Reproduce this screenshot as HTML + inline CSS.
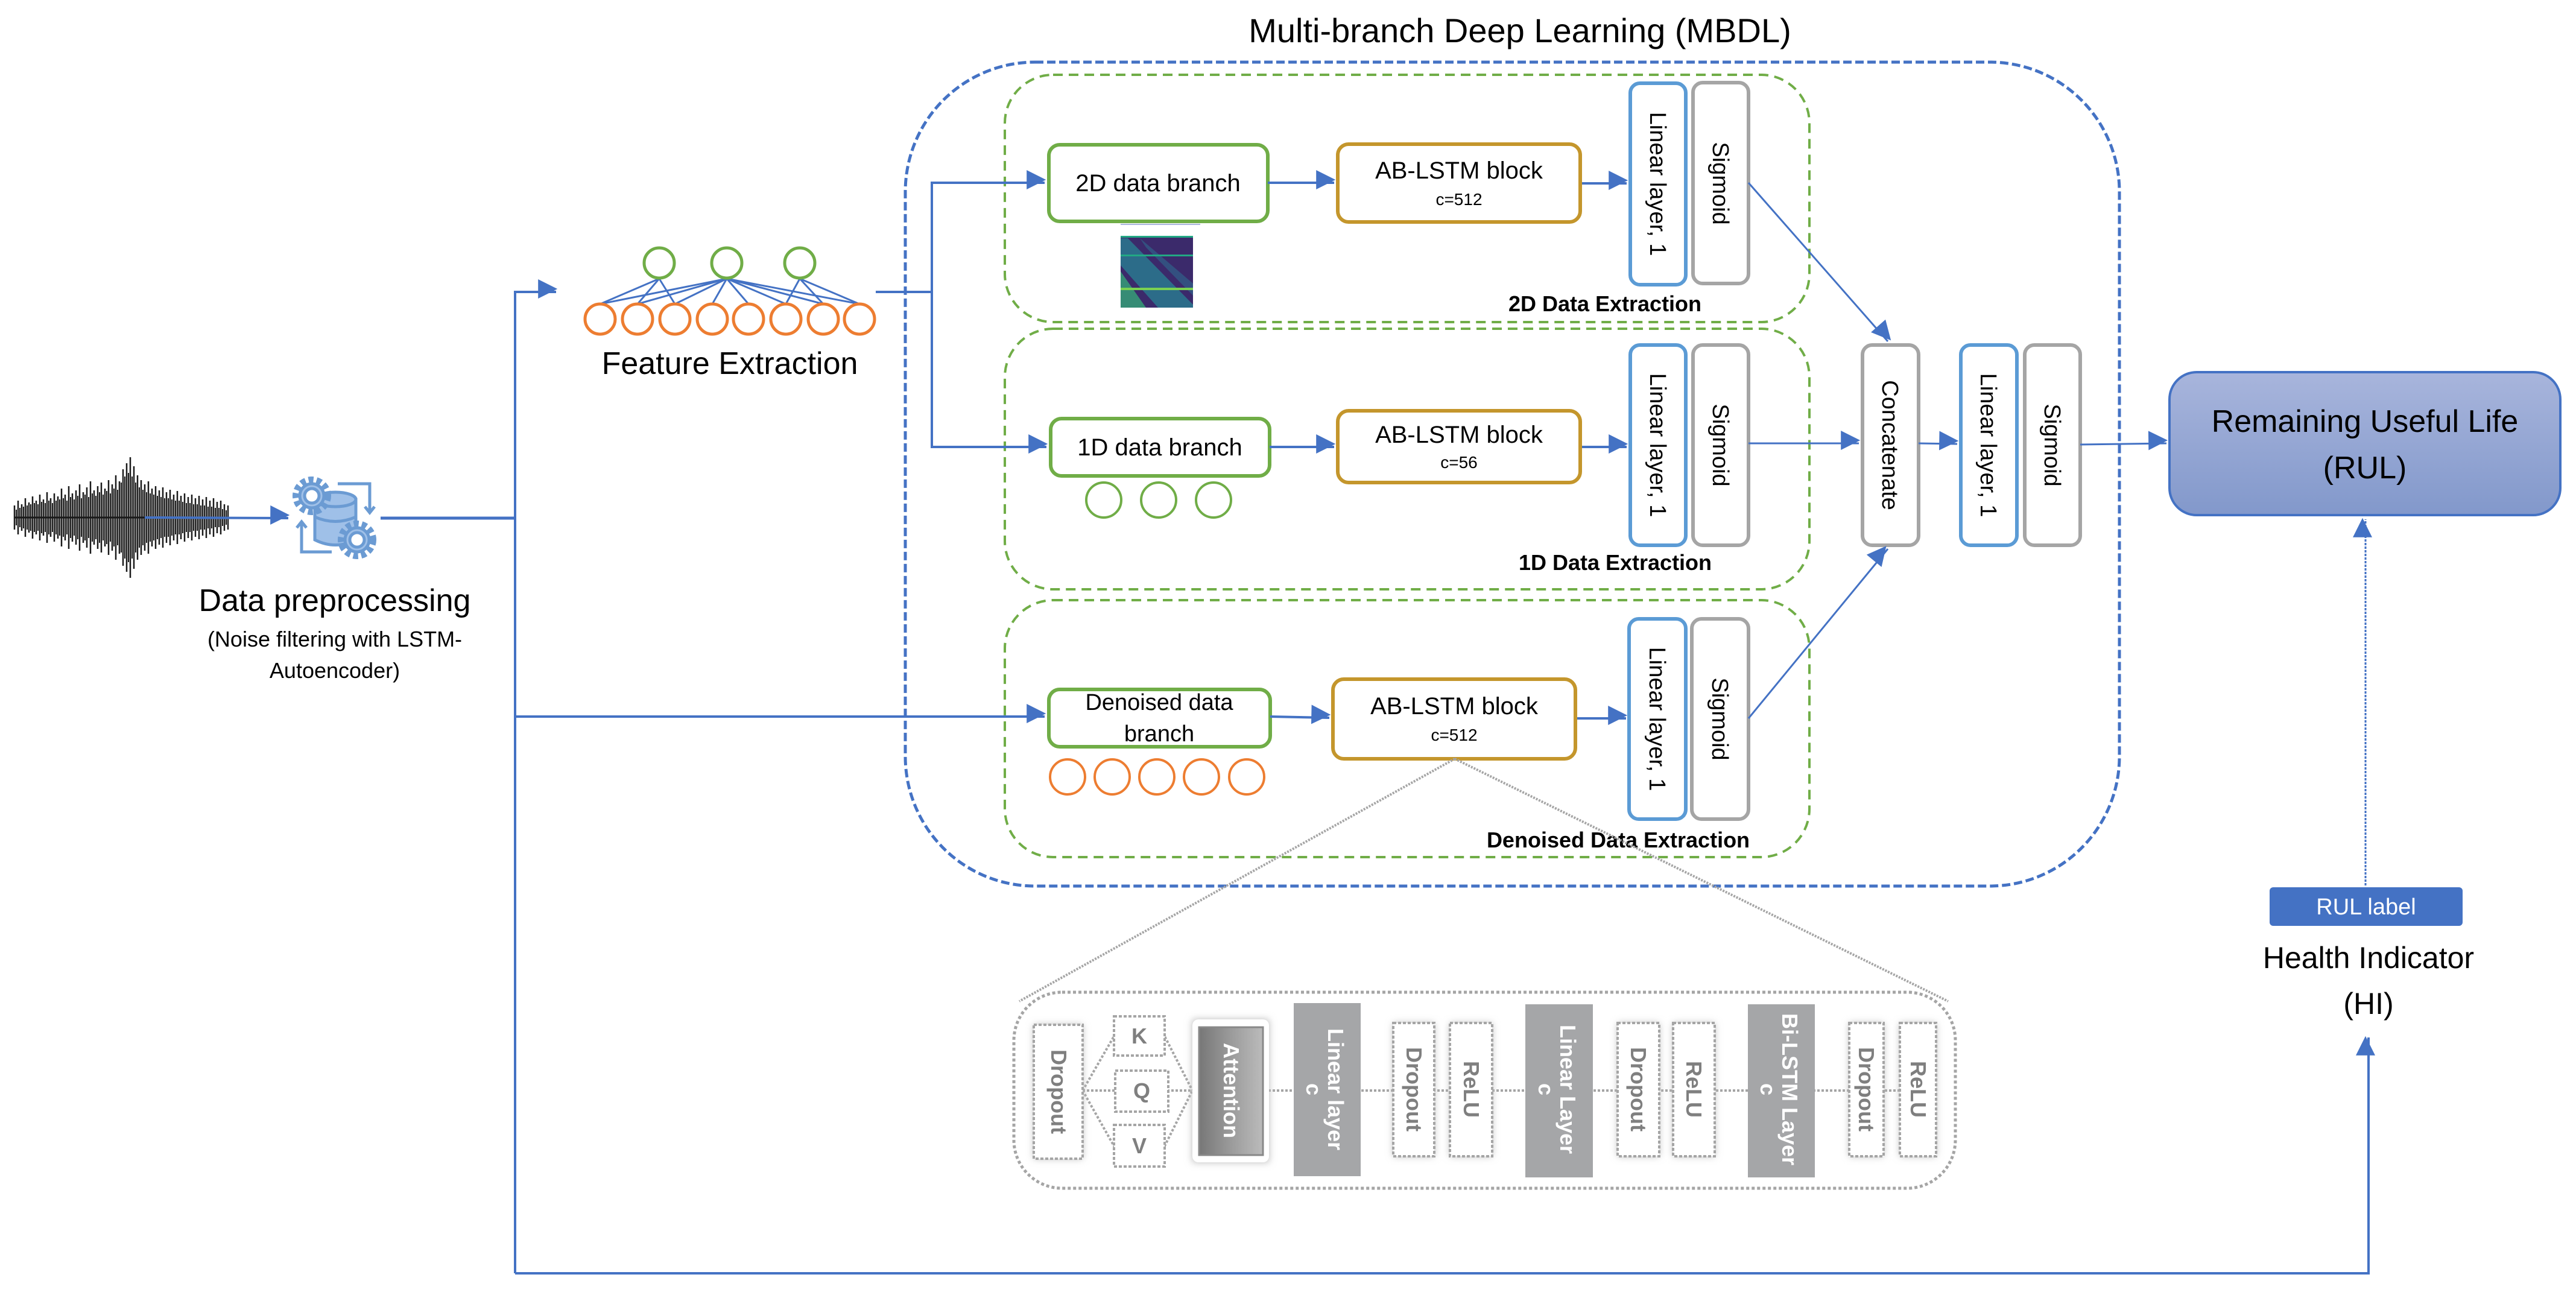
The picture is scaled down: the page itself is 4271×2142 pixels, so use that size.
<!DOCTYPE html>
<html><head><meta charset="utf-8"><style>
html,body{margin:0;padding:0;background:#fff}
svg{display:block}
text{font-family:"Liberation Sans",sans-serif}
</style></head><body>
<svg width="4271" height="2142" viewBox="0 0 4271 2142" xmlns="http://www.w3.org/2000/svg">
<defs>
<marker id="ar" markerWidth="10" markerHeight="10" refX="9" refY="5" orient="auto" markerUnits="userSpaceOnUse" viewBox="0 0 10 10" style="overflow:visible">
<path d="M0,0 L10,5 L0,10 z" fill="#4472c4" transform="scale(3.2) translate(-6,-5) translate(6,5) translate(-6.5,-5) translate(0,0)"/>
</marker>
<linearGradient id="rg" x1="0" y1="0" x2="0" y2="1"><stop offset="0" stop-color="#a8b5dc"/><stop offset="1" stop-color="#8298cb"/></linearGradient>
<linearGradient id="ag" x1="0" y1="0" x2="1" y2="0"><stop offset="0" stop-color="#777"/><stop offset="0.5" stop-color="#9b9b9b"/><stop offset="1" stop-color="#bbb"/></linearGradient>
<filter id="sh" x="-30%" y="-10%" width="160%" height="120%"><feGaussianBlur stdDeviation="6"/></filter>
</defs>

<text x="2520" y="70" font-size="56" text-anchor="middle">Multi-branch Deep Learning (MBDL)</text>

<rect x="1501" y="103" width="2013" height="1366" rx="215" fill="none" stroke="#4472c4" stroke-width="5" stroke-dasharray="14,6"/>

<g fill="none" stroke="#70ad47" stroke-width="4" stroke-dasharray="16,10">
<rect x="1666" y="124" width="1334" height="410" rx="80"/>
<rect x="1666" y="545" width="1334" height="432" rx="80"/>
<rect x="1666" y="995" width="1334" height="426" rx="80"/>
</g>
<g font-weight="bold" font-size="36" text-anchor="middle">
<text x="2661" y="516">2D Data Extraction</text>
<text x="2678" y="945">1D Data Extraction</text>
<text x="2683" y="1405">Denoised Data Extraction</text>
</g>

<!-- waveform spikes -->
<g stroke="#1a1a1a" stroke-width="2.5">
<path d="M24,838V878 M30,830V886 M36,836V880 M42,826V890 M48,833V883 M54,823V893 M60,830V886 M66,820V896 M72,828V888 M78,816V900 M84,826V890 M90,818V898 M96,823V893 M102,810V906 M108,820V896 M114,806V910 M120,818V898 M126,813V903 M132,803V913 M138,816V900 M144,808V908 M150,798V918 M156,813V903 M162,806V910 M168,800V916 M174,810V906 M180,796V920 M186,803V913 M192,788V928 M198,798V918 M204,778V938 M210,768V948 M216,758V958 M222,773V943 M228,788V928 M234,796V920 M240,803V913 M246,798V918 M252,810V906 M258,806V910 M264,813V903 M270,808V908 M276,816V900 M282,812V904 M288,820V896 M294,814V902 M300,822V894 M306,818V898 M312,824V892 M318,820V896 M324,826V890 M330,822V894 M336,828V888 M342,824V892 M348,830V886 M354,826V890 M360,832V884 M366,830V886 M372,836V880 M378,838V878"/>
<path stroke-width="2" d="M27,845V871 M33,842V874 M39,840V876 M45,838V878 M51,836V880 M57,834V882 M63,836V880 M69,832V884 M75,834V882 M81,830V886 M87,834V882 M93,830V886 M99,828V888 M105,826V890 M111,830V886 M117,824V892 M123,828V888 M129,822V894 M135,826V890 M141,820V896 M147,824V892 M153,818V898 M159,822V894 M165,816V900 M171,820V896 M177,814V902 M183,818V898 M189,810V906 M195,812V904 M201,800V916 M207,790V926 M213,784V932 M219,790V926 M225,800V916 M231,808V908 M237,812V904 M243,816V900 M249,818V898 M255,820V896 M261,822V894 M267,824V892 M273,826V890 M279,826V890 M285,828V888 M291,830V886 M297,830V886 M303,832V884 M309,834V882 M315,834V882 M321,836V880 M327,836V880 M333,838V878 M339,838V878 M345,840V876 M351,840V876 M357,842V874 M363,842V874 M369,844V872 M375,846V870"/>
</g>
<line x1="24" y1="858" x2="378" y2="858" stroke="#1a1a1a" stroke-width="3"/>
<line x1="240" y1="858" x2="478" y2="859" stroke="#4472c4" stroke-width="4" marker-end="url(#ar)"/>

<g stroke="#6b9bd3" stroke-width="5" fill="#9fc0e8">
<path d="M522,828 L522,895 Q556,912 590,895 L590,828 Z"/>
<ellipse cx="556" cy="828" rx="34" ry="12"/>
<path d="M522,857 Q556,872 590,857" fill="none"/>
<circle cx="517" cy="822" r="26" stroke-dasharray="8,5" stroke-width="12" fill="none"/>
<circle cx="517" cy="822" r="20"/>
<circle cx="517" cy="822" r="12" fill="#fff"/>
<circle cx="592" cy="895" r="26" stroke-dasharray="8,5" stroke-width="12" fill="none"/>
<circle cx="592" cy="895" r="20"/>
<circle cx="592" cy="895" r="12" fill="#fff"/>
<path d="M560,802 L613,802 L613,848 M605,840 L613,850 L621,840" fill="none"/>
<path d="M550,915 L500,915 L500,867 M492,875 L500,865 L508,875" fill="none"/>
</g>
<line x1="631" y1="859" x2="854" y2="859" stroke="#4472c4" stroke-width="5"/>

<text x="555" y="1013" font-size="52" text-anchor="middle">Data preprocessing</text>
<text x="555" y="1072" font-size="36" text-anchor="middle">(Noise filtering with LSTM-</text>
<text x="555" y="1124" font-size="36" text-anchor="middle">Autoencoder)</text>

<g stroke="#4472c4" stroke-width="4" fill="none">
<polyline points="854,2111 854,484 922,484" marker-end="url(#ar)"/>
<polyline points="854,1188 1732,1188" marker-end="url(#ar)"/>
<polyline points="854,2111 3927,2111 3927,1720" marker-end="url(#ar)"/>
<polyline points="1452,484 1545,484"/>
<polyline points="1545,741 1545,303 1732,303" marker-end="url(#ar)"/>
<polyline points="1545,484 1545,741 1735,741" marker-end="url(#ar)"/>
</g>

<g stroke="#4472c4" stroke-width="3">
<line x1="1093" y1="462" x2="995" y2="504"/><line x1="1093" y1="462" x2="1057" y2="504"/><line x1="1093" y1="462" x2="1119" y2="504"/>
<line x1="1205" y1="462" x2="995" y2="504"/><line x1="1205" y1="462" x2="1057" y2="504"/><line x1="1205" y1="462" x2="1119" y2="504"/><line x1="1205" y1="462" x2="1181" y2="504"/><line x1="1205" y1="462" x2="1241" y2="504"/><line x1="1205" y1="462" x2="1303" y2="504"/><line x1="1205" y1="462" x2="1365" y2="504"/><line x1="1205" y1="462" x2="1425" y2="504"/>
<line x1="1326" y1="462" x2="1303" y2="504"/><line x1="1326" y1="462" x2="1365" y2="504"/><line x1="1326" y1="462" x2="1425" y2="504"/>
</g>
<g fill="#fff" stroke="#70ad47" stroke-width="5">
<circle cx="1093" cy="436" r="25"/><circle cx="1205" cy="436" r="25"/><circle cx="1326" cy="436" r="25"/>
</g>
<g fill="none" stroke="#ed7d31" stroke-width="5">
<circle cx="995" cy="529" r="25"/><circle cx="1057" cy="529" r="25"/><circle cx="1119" cy="529" r="25"/><circle cx="1181" cy="529" r="25"/><circle cx="1241" cy="529" r="25"/><circle cx="1303" cy="529" r="25"/><circle cx="1365" cy="529" r="25"/><circle cx="1425" cy="529" r="25"/>
</g>
<text x="1210" y="620" font-size="52" text-anchor="middle">Feature Extraction</text>

<g fill="#fff" stroke="#70ad47" stroke-width="6">
<rect x="1739" y="240" width="363" height="127" rx="18"/>
<rect x="1742" y="694" width="363" height="95" rx="18"/>
<rect x="1739" y="1143" width="367" height="95" rx="18"/>
</g>
<g font-size="40" text-anchor="middle">
<text x="1920" y="317">2D data branch</text>
<text x="1923" y="755">1D data branch</text>
<text x="1922" y="1177" font-size="38">Denoised data</text>
<text x="1922" y="1229" font-size="38">branch</text>
</g>
<line x1="1858" y1="372" x2="1990" y2="372" stroke="#a8b5dc" stroke-width="2"/>
<rect x="1858" y="391" width="120" height="119" fill="#3b2a6b"/>
<polygon points="1858,395 1870,395 1978,505 1978,510 1920,510 1858,440" fill="#2a788e" opacity="0.85"/>
<polygon points="1858,450 1900,510 1858,510" fill="#35b779" opacity="0.7"/>
<polygon points="1890,395 1978,470 1978,490 1900,410" fill="#2f6a8e" opacity="0.6"/>
<rect x="1858" y="422" width="120" height="3" fill="#22a884"/>
<rect x="1858" y="477" width="120" height="4" fill="#7ad151"/>
<rect x="1858" y="391" width="120" height="3" fill="#22a884"/>
<g fill="none" stroke="#70ad47" stroke-width="4">
<circle cx="1830" cy="829" r="29"/><circle cx="1921" cy="829" r="29"/><circle cx="2012" cy="829" r="29"/>
</g>
<g fill="none" stroke="#ed7d31" stroke-width="4">
<circle cx="1770" cy="1288" r="29"/><circle cx="1844" cy="1288" r="29"/><circle cx="1918" cy="1288" r="29"/><circle cx="1992" cy="1288" r="29"/><circle cx="2067" cy="1288" r="29"/>
</g>

<g stroke="#4472c4" stroke-width="4">
<line x1="2102" y1="303" x2="2212" y2="303" marker-end="url(#ar)"/>
<line x1="2105" y1="741" x2="2212" y2="741" marker-end="url(#ar)"/>
<line x1="2106" y1="1188" x2="2204" y2="1190" marker-end="url(#ar)"/>
<line x1="2620" y1="304" x2="2697" y2="304" marker-end="url(#ar)"/>
<line x1="2620" y1="741" x2="2697" y2="741" marker-end="url(#ar)"/>
<line x1="2612" y1="1191" x2="2696" y2="1191" marker-end="url(#ar)"/>
</g>
<g fill="#fff" stroke="#c4962c" stroke-width="6">
<rect x="2218" y="239" width="402" height="129" rx="18"/>
<rect x="2218" y="681" width="402" height="119" rx="18"/>
<rect x="2210" y="1126" width="402" height="132" rx="18"/>
</g>
<g text-anchor="middle">
<text x="2419" y="296" font-size="40">AB-LSTM block</text><text x="2419" y="340" font-size="28">c=512</text>
<text x="2419" y="734" font-size="40">AB-LSTM block</text><text x="2419" y="776" font-size="28">c=56</text>
<text x="2411" y="1184" font-size="40">AB-LSTM block</text><text x="2411" y="1228" font-size="28">c=512</text>
</g>

<g fill="#fff" stroke-width="6">
<rect x="2703" y="138" width="92" height="334" rx="16" stroke="#5b9bd5"/>
<rect x="2807" y="137" width="92" height="333" rx="16" stroke="#a5a5a5"/>
<rect x="2703" y="572" width="92" height="332" rx="16" stroke="#5b9bd5"/>
<rect x="2807" y="572" width="92" height="332" rx="16" stroke="#a5a5a5"/>
<rect x="2701" y="1026" width="94" height="332" rx="16" stroke="#5b9bd5"/>
<rect x="2805" y="1026" width="94" height="332" rx="16" stroke="#a5a5a5"/>
<rect x="3088" y="572" width="93" height="332" rx="16" stroke="#a5a5a5"/>
<rect x="3251" y="572" width="93" height="332" rx="16" stroke="#5b9bd5"/>
<rect x="3357" y="572" width="92" height="332" rx="16" stroke="#a5a5a5"/>
</g>
<g font-size="38" text-anchor="middle">
<text transform="translate(2749,305) rotate(90)" dy="13">Linear layer, 1</text>
<text transform="translate(2853,304) rotate(90)" dy="13">Sigmoid</text>
<text transform="translate(2749,738) rotate(90)" dy="13">Linear layer, 1</text>
<text transform="translate(2853,738) rotate(90)" dy="13">Sigmoid</text>
<text transform="translate(2748,1192) rotate(90)" dy="13">Linear layer, 1</text>
<text transform="translate(2852,1192) rotate(90)" dy="13">Sigmoid</text>
<text transform="translate(3134,738) rotate(90)" dy="13">Concatenate</text>
<text transform="translate(3297,738) rotate(90)" dy="13">Linear layer, 1</text>
<text transform="translate(3403,738) rotate(90)" dy="13">Sigmoid</text>
</g>
<g stroke="#4472c4" stroke-width="3">
<line x1="2899" y1="303" x2="3130" y2="566" marker-end="url(#ar)"/>
<line x1="2899" y1="1191" x2="3130" y2="910" marker-end="url(#ar)"/>
<line x1="2899" y1="735" x2="3082" y2="735" marker-end="url(#ar)"/>
<line x1="3181" y1="735" x2="3245" y2="736" marker-end="url(#ar)"/>
<line x1="3449" y1="737" x2="3592" y2="735" marker-end="url(#ar)"/>
</g>

<rect x="3597" y="617" width="648" height="237" rx="45" fill="url(#rg)" stroke="#4472c4" stroke-width="4"/>
<text x="3921" y="716" font-size="52" text-anchor="middle">Remaining Useful Life</text>
<text x="3921" y="793" font-size="52" text-anchor="middle">(RUL)</text>
<line x1="3922" y1="1468" x2="3922" y2="861" stroke="#4472c4" stroke-width="3" stroke-dasharray="4,2" marker-end="url(#ar)"/>
<rect x="3763" y="1471" width="320" height="64" rx="6" fill="#4472c4"/>
<text x="3923" y="1516" font-size="38" fill="#fff" text-anchor="middle">RUL label</text>
<text x="3927" y="1605" font-size="50" text-anchor="middle">Health Indicator</text>
<text x="3927" y="1681" font-size="50" text-anchor="middle">(HI)</text>

<g stroke="#a5a5a5" stroke-width="4" stroke-dasharray="3,2">
<line x1="2412" y1="1258" x2="1690" y2="1660"/>
<line x1="2412" y1="1258" x2="3230" y2="1660"/>
</g>

<rect x="1681" y="1645" width="1561" height="325" rx="80" fill="#fff" stroke="#a5a5a5" stroke-width="5" stroke-dasharray="5,4"/>
<g stroke="#a5a5a5" stroke-width="4" stroke-dasharray="4,3" fill="none">
<line x1="1795" y1="1808" x2="3150" y2="1808"/>
<polyline points="1795,1808 1847,1718 1931,1718 1977,1808"/>
<polyline points="1795,1808 1847,1900 1931,1900 1977,1808"/>
</g>
<g fill="#bbb" filter="url(#sh)">
<rect x="1714" y="1699" width="81" height="222"/>
<rect x="1977" y="1690" width="127" height="237"/>
<rect x="2310" y="1696" width="68" height="221"/><rect x="2404" y="1696" width="70" height="221"/>
<rect x="2682" y="1696" width="69" height="221"/><rect x="2774" y="1696" width="69" height="221"/>
<rect x="3066" y="1696" width="57" height="221"/><rect x="3150" y="1696" width="60" height="221"/>
</g>
<g fill="#fff" stroke="#a5a5a5" stroke-width="4" stroke-dasharray="5,3">
<rect x="1714" y="1699" width="81" height="222"/>
<rect x="1847" y="1685" width="84" height="65"/>
<rect x="1849" y="1775" width="88" height="68"/>
<rect x="1847" y="1865" width="84" height="69"/>
<rect x="2310" y="1696" width="68" height="221"/><rect x="2404" y="1696" width="70" height="221"/>
<rect x="2682" y="1696" width="69" height="221"/><rect x="2774" y="1696" width="69" height="221"/>
<rect x="3066" y="1696" width="57" height="221"/><rect x="3150" y="1696" width="60" height="221"/>
</g>
<rect x="1977" y="1690" width="127" height="237" rx="10" fill="#fff"/>
<rect x="1988" y="1703" width="106" height="212" fill="url(#ag)" stroke="#888" stroke-width="3"/>
<g fill="#a5a6a8">
<rect x="2145" y="1663" width="111" height="287"/>
<rect x="2529" y="1665" width="112" height="287"/>
<rect x="2898" y="1665" width="111" height="287"/>
</g>
<g font-weight="bold" fill="#7f7f7f" text-anchor="middle" font-size="36">
<text transform="translate(1755,1810) rotate(90)" dy="12">Dropout</text>
<text x="1889" y="1730">K</text><text x="1893" y="1821">Q</text><text x="1889" y="1912">V</text>
<text transform="translate(2344,1806) rotate(90)" dy="12">Dropout</text>
<text transform="translate(2439,1806) rotate(90)" dy="12">ReLU</text>
<text transform="translate(2716,1806) rotate(90)" dy="12">Dropout</text>
<text transform="translate(2808,1806) rotate(90)" dy="12">ReLU</text>
<text transform="translate(3094,1806) rotate(90)" dy="12">Dropout</text>
<text transform="translate(3180,1806) rotate(90)" dy="12">ReLU</text>
</g>
<g font-weight="bold" fill="#fff" text-anchor="middle" font-size="36">
<text transform="translate(2041,1808) rotate(90)" dy="12">Attention</text>
<text transform="translate(2200,1806) rotate(90)" dy="-2">Linear layer</text>
<text transform="translate(2200,1806) rotate(90)" dy="34">c</text>
<text transform="translate(2585,1806) rotate(90)" dy="-2">Linear Layer</text>
<text transform="translate(2585,1806) rotate(90)" dy="34">c</text>
<text transform="translate(2953,1806) rotate(90)" dy="-2">Bi-LSTM Layer</text>
<text transform="translate(2953,1806) rotate(90)" dy="34">c</text>
</g>
</svg>
</body></html>
